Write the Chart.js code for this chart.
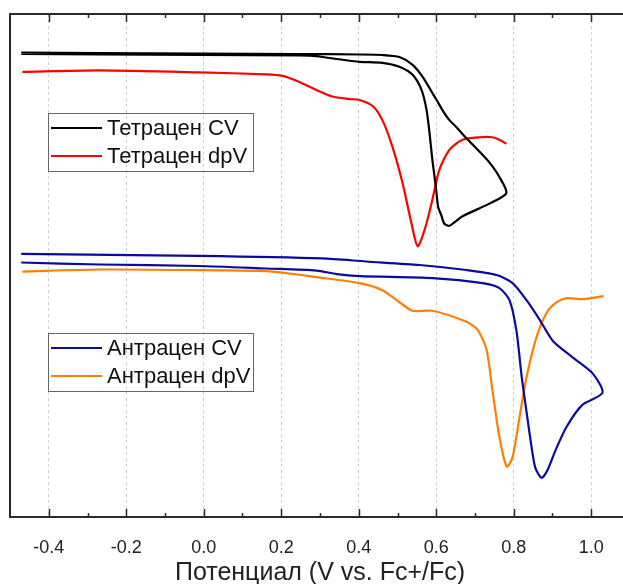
<!DOCTYPE html>
<html>
<head>
<meta charset="utf-8">
<script src="https://cdn.jsdelivr.net/npm/chart.js@4.4.0/dist/chart.umd.min.js"></script>
<style>
    html, body { margin: 0; padding: 0; background: #fff; overflow: hidden; }
    #chart { display: block; }
</style>
</head>
<body>
<canvas id="chart" width="640" height="584"></canvas>
<script>
// Potential (V vs. Fc+/Fc) and current (arbitrary units, offset per trace)
const tetCvV = [-0.471, -0.269, -0.011, 0.247, 0.402, 0.461, 0.505, 0.539, 0.565, 0.590, 0.601, 0.616, 0.634, 0.652, 0.678, 0.712, 0.738, 0.763, 0.781,
    0.740, 0.668, 0.647, 0.634, 0.621, 0.613, 0.605, 0.599, 0.590, 0.583, 0.575, 0.562, 0.539, 0.505, 0.461, 0.402, 0.358, 0.291, 0.247, -0.011, -0.269, -0.471];
const tetCvI = [92.35, 92.25, 92.15, 92.05, 91.95, 91.85, 91.45, 89.9, 87.5, 84.3, 82.9, 80.9, 78.9, 77.5, 75.3, 72.6, 70.4, 67.6, 64.4,
    62.4, 59.8, 58.6, 57.9, 58.3, 60.0, 61.6, 65.6, 71.0, 76.1, 80.9, 84.9, 87.9, 89.5, 90.3, 90.5, 90.9, 91.6, 91.75, 91.85, 91.95, 92.05];

const tetDpvV = [-0.468, -0.269, -0.011, 0.162, 0.203, 0.247, 0.291, 0.332, 0.376, 0.402, 0.436, 0.461, 0.487, 0.513, 0.536, 0.552,
    0.570, 0.588, 0.608, 0.634, 0.668, 0.712, 0.745, 0.763, 0.781];
const tetDpvI = [88.5, 88.8, 88.4, 88.0, 87.7, 86.5, 84.9, 83.6, 83.1, 82.9, 81.7, 78.9, 73.6, 66.4, 58.4, 53.8,
    57.1, 62.4, 69.0, 73.0, 75.0, 75.5, 75.5, 75.0, 74.2];

const antCvV = [-0.471, -0.011, 0.306, 0.419, 0.557, 0.678, 0.756, 0.797, 0.833, 0.867, 0.901, 0.951, 1.003, 1.029,
    0.977, 0.936, 0.908, 0.887, 0.872, 0.856, 0.846, 0.833, 0.820, 0.807, 0.789, 0.763, 0.720, 0.590, 0.402, 0.343, 0.291, 0.162, -0.011, -0.269, -0.471];
const antCvI = [52.3, 51.9, 51.4, 50.8, 50.1, 49.1, 48.1, 46.5, 43.1, 39.2, 35.0, 31.8, 28.6, 24.7,
    22.3, 17.9, 13.3, 9.3, 7.8, 9.7, 13.9, 20.9, 28.2, 37.0, 43.1, 45.5, 46.5, 47.5, 47.9, 48.3, 49.0, 49.4, 49.9, 50.2, 50.6];

const antDpvV = [-0.468, -0.269, -0.011, 0.162, 0.203, 0.291, 0.402, 0.461, 0.505, 0.539, 0.590, 0.678, 0.707, 0.730, 0.745, 0.763, 0.782,
    0.797, 0.815, 0.833, 0.859, 0.885, 0.911, 0.937, 0.978, 1.032];
const antDpvI = [48.8, 49.2, 49.1, 48.9, 48.6, 47.7, 46.5, 45.1, 42.7, 41.0, 41.0, 38.8, 37.2, 33.2, 25.2, 15.9, 10.0,
    11.9, 19.9, 27.8, 35.8, 40.6, 42.7, 43.5, 43.3, 43.9];

const xTicks = [-0.4, -0.2, 0.0, 0.2, 0.4, 0.6, 0.8, 1.0];
const xMinor = [-0.3, -0.1, 0.1, 0.3, 0.5, 0.7, 0.9];

const legendGroups = [
    { top: 113, items: [['Тетрацен CV', '#000000'], ['Тетрацен dpV', '#ff0000']] },
    { top: 333, items: [['Антрацен CV', '#0a0a9e'], ['Антрацен dpV', '#ff8000']] }
];

function toPoints(xs, ys) {
    return xs.map((x, i) => ({ x: x, y: ys[i] }));
}

// box frame, inward ticks and the two legend boxes
const framePlugin = {
    id: 'framePlugin',
    afterDraw(chart) {
        const ctx = chart.ctx;
        const area = chart.chartArea;
        const xs = chart.scales.x;
        ctx.save();
        ctx.strokeStyle = '#2a2a2a';
        ctx.lineWidth = 2;
        ctx.strokeRect(area.left, area.top, area.right - area.left, area.bottom - area.top);

        ctx.lineWidth = 1.5;
        const drawTick = (v, len) => {
            const px = Math.round(xs.getPixelForValue(v)) + 0.5;
            ctx.beginPath();
            ctx.moveTo(px, area.top);
            ctx.lineTo(px, area.top + len);
            ctx.moveTo(px, area.bottom);
            ctx.lineTo(px, area.bottom - len);
            ctx.stroke();
        };
        xTicks.forEach(v => drawTick(v, 8));
        xMinor.forEach(v => drawTick(v, 4));

        legendGroups.forEach(g => {
            ctx.strokeStyle = '#666';
            ctx.lineWidth = 1;
            ctx.strokeRect(48.5, g.top + 0.5, 205, 58);
            ctx.font = '22px Arial, "Liberation Sans", sans-serif';
            ctx.textBaseline = 'middle';
            g.items.forEach((it, i) => {
                const y = g.top + 15 + i * 28;
                ctx.strokeStyle = it[1];
                ctx.lineWidth = 2.2;
                ctx.beginPath();
                ctx.moveTo(51, y);
                ctx.lineTo(102, y);
                ctx.stroke();
                ctx.fillStyle = '#111';
                ctx.fillText(it[0], 107, y + 1);
            });
        });
        ctx.restore();
    }
};

function lineSet(label, xs, ys, color) {
    return {
        label: label,
        data: toPoints(xs, ys),
        borderColor: color,
        borderWidth: 2.2,
        pointRadius: 0,
        tension: 0.25,
        fill: false
    };
}

const ctx = document.getElementById('chart').getContext('2d');
new Chart(ctx, {
    type: 'line',
    data: {
        datasets: [
            lineSet('Тетрацен CV', tetCvV, tetCvI, '#000000'),
            lineSet('Тетрацен dpV', tetDpvV, tetDpvI, '#ff0000'),
            lineSet('Антрацен CV', antCvV, antCvI, '#0a0a9e'),
            lineSet('Антрацен dpV', antDpvV, antDpvI, '#ff8000')
        ]
    },
    options: {
        responsive: false,
        animation: false,
        layout: { padding: { left: 10, right: 10, top: 14, bottom: 0 } },
        plugins: {
            legend: { display: false },
            tooltip: { enabled: false }
        },
        scales: {
            x: {
                type: 'linear',
                min: -0.5,
                max: 1.1,
                afterBuildTicks: scale => {
                    scale.ticks = xTicks.map(v => ({ value: v }));
                },
                afterFit: scale => {
                    scale.height = 67;
                },
                ticks: {
                    padding: 20,
                    color: '#222',
                    font: { family: 'Arial, "Liberation Sans", sans-serif', size: 18 },
                    callback: v => v.toFixed(1)
                },
                grid: { color: '#cfcfcf', lineWidth: 1, drawTicks: false },
                border: { display: false, dash: [3, 3] },
                title: {
                    display: true,
                    text: 'Потенциал (V vs. Fc+/Fc)',
                    color: '#222',
                    padding: { top: 0, bottom: -4 },
                    font: { family: 'Arial, "Liberation Sans", sans-serif', size: 25 }
                }
            },
            y: {
                type: 'linear',
                display: false,
                min: 0,
                max: 100
            }
        }
    },
    plugins: [framePlugin]
});
</script>
</body>
</html>
